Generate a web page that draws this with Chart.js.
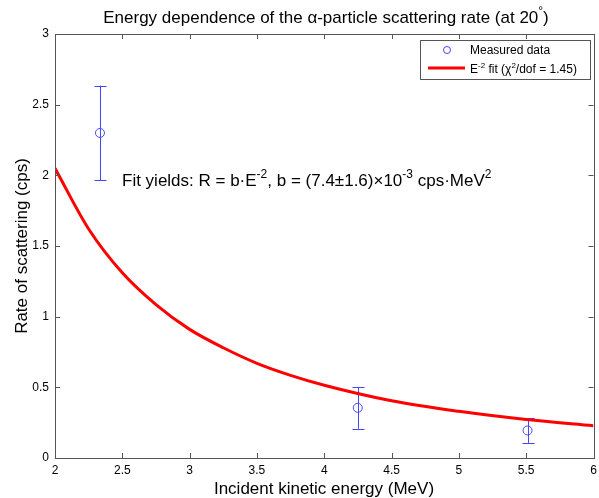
<!DOCTYPE html>
<html><head><meta charset="utf-8">
<script src="https://cdn.jsdelivr.net/npm/chart.js@4"></script>
<style>html,body{margin:0;padding:0;background:#fff}#wrap{width:599px;height:498px}</style>
</head><body><div id="wrap"><canvas id="c" width="599" height="498"></canvas></div>
<script>
// Measured data
const energy = [2.334, 4.249, 5.51];
const rate = [2.30, 0.355, 0.195];
const rateErr = [0.335, 0.148, 0.088];
// Fit curve
const fitEnergy = [2, 2.25, 2.5, 2.75, 3, 3.25, 3.5, 3.75, 4, 4.5, 5, 5.5, 6];
const fitRate = [2.05, 1.62, 1.31, 1.085, 0.91, 0.78, 0.67, 0.585, 0.515, 0.405, 0.33, 0.272, 0.228];
// Ticks
const xTicks = [2, 2.5, 3, 3.5, 4, 4.5, 5, 5.5, 6];
const yTicks = [0, 0.5, 1, 1.5, 2, 2.5, 3];

const FONT = '"Liberation Sans", Arial, sans-serif';
const AXIS = '#555';
const BLUE = 'rgb(70,70,255)';
const RED = 'rgb(255,0,0)';

function richText(ctx, parts, x, y, size, align) {
  const supSize = Math.round(size * 0.7);
  let w = 0;
  parts.forEach(p => { ctx.font = (p[1] ? supSize : size) + 'px ' + FONT; w += ctx.measureText(p[0]).width; });
  let cx = align === 'center' ? x - w / 2 : x;
  ctx.textAlign = 'left';
  ctx.textBaseline = 'alphabetic';
  parts.forEach(p => {
    ctx.font = (p[1] ? supSize : size) + 'px ' + FONT;
    ctx.fillText(p[0], cx, p[1] ? y - size * 0.45 : y);
    cx += ctx.measureText(p[0]).width;
  });
}

const decor = {
  id: 'decor',
  beforeDatasetsDraw(chart) {
    const ctx = chart.ctx, xs = chart.scales.x, ys = chart.scales.y;
    ctx.save();
    ctx.strokeStyle = BLUE; ctx.lineWidth = 1;
    energy.forEach((e, i) => {
      const px = Math.round(xs.getPixelForValue(e)) + 0.5;
      const top = ys.getPixelForValue(rate[i] + rateErr[i]);
      const bot = ys.getPixelForValue(rate[i] - rateErr[i]);
      ctx.beginPath();
      ctx.moveTo(px, top); ctx.lineTo(px, bot);
      ctx.moveTo(px - 6, Math.round(top) + 0.5); ctx.lineTo(px + 6, Math.round(top) + 0.5);
      ctx.moveTo(px - 6, Math.round(bot) + 0.5); ctx.lineTo(px + 6, Math.round(bot) + 0.5);
      ctx.stroke();
    });
    ctx.restore();
  },
  afterDraw(chart) {
    const ctx = chart.ctx, a = chart.chartArea, xs = chart.scales.x, ys = chart.scales.y;
    ctx.save();
    ctx.strokeStyle = AXIS; ctx.lineWidth = 1;
    ctx.strokeRect(Math.round(a.left) + 0.5, Math.round(a.top) + 0.5, Math.round(a.right - a.left), Math.round(a.bottom - a.top));
    ctx.beginPath();
    xTicks.forEach(t => {
      const px = Math.round(xs.getPixelForValue(t)) + 0.5;
      ctx.moveTo(px, a.bottom); ctx.lineTo(px, a.bottom - 5);
      ctx.moveTo(px, a.top); ctx.lineTo(px, a.top + 5);
    });
    yTicks.forEach(t => {
      const py = Math.round(ys.getPixelForValue(t)) + 0.5;
      ctx.moveTo(a.left, py); ctx.lineTo(a.left + 5, py);
      ctx.moveTo(a.right, py); ctx.lineTo(a.right - 5, py);
    });
    ctx.stroke();
    // title
    ctx.fillStyle = '#000';
    richText(ctx, [['Energy dependence of the \u03b1-particle scattering rate (at 20', false], ['\u00b0', true], [')', false]], 326, 23, 17, 'center');
    // axis titles
    ctx.font = '17px ' + FONT; ctx.textAlign = 'center'; ctx.textBaseline = 'alphabetic';
    ctx.fillText('Incident kinetic energy (MeV)', 324, 494);
    ctx.save();
    ctx.translate(27, (a.top + a.bottom) / 2); ctx.rotate(-Math.PI / 2);
    ctx.fillText('Rate of scattering (cps)', 0, 0);
    ctx.restore();
    // annotation
    richText(ctx, [['Fit yields: R = b\u00b7E', false], ['-2', true], [', b = (7.4\u00b11.6)\u00d710', false], ['-3', true], [' cps\u00b7MeV', false], ['2', true]], 122, 186, 17, 'left');
    // legend
    ctx.fillStyle = '#fff';
    ctx.fillRect(420.5, 40.5, 170, 39);
    ctx.strokeStyle = AXIS; ctx.lineWidth = 1;
    ctx.strokeRect(420.5, 40.5, 170, 39);
    ctx.strokeStyle = BLUE;
    ctx.beginPath(); ctx.arc(447, 50, 3.5, 0, Math.PI * 2); ctx.stroke();
    ctx.strokeStyle = RED; ctx.lineWidth = 3;
    ctx.beginPath(); ctx.moveTo(428, 68); ctx.lineTo(465, 68); ctx.stroke();
    ctx.fillStyle = '#000';
    richText(ctx, [['Measured data', false]], 470, 54, 12, 'left');
    richText(ctx, [['E', false], ['-2', true], [' fit (\u03c7', false], ['2', true], ['/dof = 1.45)', false]], 470, 73, 12, 'left');
    ctx.restore();
  }
};

new Chart(document.getElementById('c'), {
  type: 'scatter',
  data: {
    datasets: [
      {
        label: 'E-2 fit',
        data: fitEnergy.map((e, i) => ({ x: e, y: fitRate[i] })),
        showLine: true, borderColor: RED, borderWidth: 3, pointRadius: 0,
        cubicInterpolationMode: 'monotone', fill: false, order: 1
      },
      {
        label: 'Measured data',
        data: energy.map((e, i) => ({ x: e, y: rate[i] })),
        pointStyle: 'circle', pointRadius: 4.5, pointBorderWidth: 1,
        borderColor: BLUE, backgroundColor: 'rgba(0,0,0,0)', order: 2
      }
    ]
  },
  options: {
    responsive: false, animation: false, devicePixelRatio: 1,
    layout: { padding: { top: 34, right: 5, left: 0, bottom: 0 } },
    plugins: { legend: { display: false }, tooltip: { enabled: false }, title: { display: false } },
    scales: {
      x: {
        type: 'linear', min: 2, max: 6,
        afterBuildTicks: s => { s.ticks = xTicks.map(v => ({ value: v })); },
        afterFit: s => { s.height = 40; s.paddingLeft = 0; s.paddingRight = 0; },
        grid: { display: false, drawTicks: false },
        border: { display: false },
        ticks: { color: '#000', font: { family: FONT, size: 12 }, padding: 5, maxRotation: 0, autoSkip: false,
          callback: v => String(v) }
      },
      y: {
        type: 'linear', min: 0, max: 3,
        afterBuildTicks: s => { s.ticks = yTicks.map(v => ({ value: v })); },
        afterFit: s => { s.width = 55; s.paddingTop = 0; s.paddingBottom = 0; },
        grid: { display: false, drawTicks: false },
        border: { display: false },
        ticks: { color: '#000', font: { family: FONT, size: 12 }, padding: 6, autoSkip: false,
          callback: v => String(v) }
      }
    }
  },
  plugins: [decor]
});
</script></body></html>
